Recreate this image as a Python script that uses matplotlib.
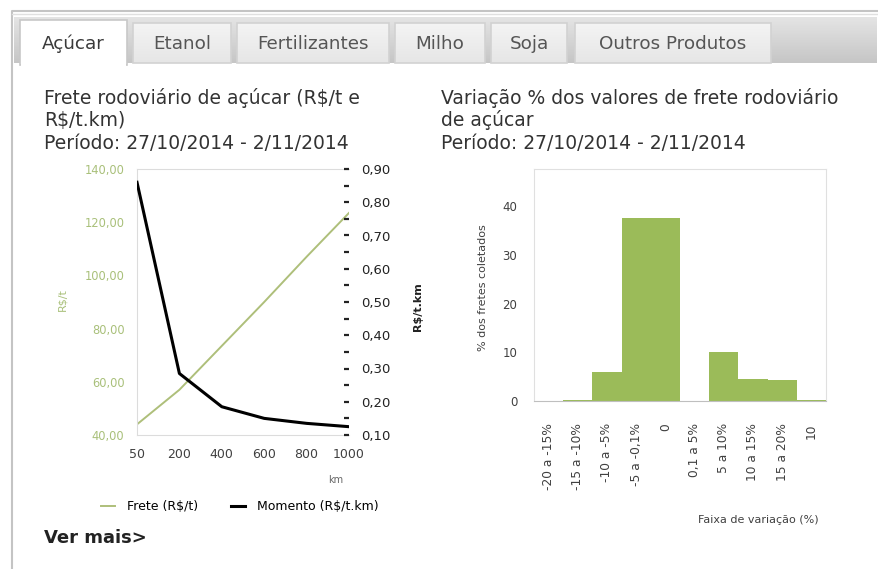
import numpy as np
import matplotlib
matplotlib.use("Agg")
import matplotlib.pyplot as plt
from matplotlib.patches import Rectangle
from matplotlib.colors import LinearSegmentedColormap

# === 数据 ===
km_labels = ['50', '200', '400', '600', '800', '1000']
frete = [44.0, 57.0, 73.5, 90.0, 107.0, 123.5]          # R$/t
momento = [0.86, 0.285, 0.185, 0.15, 0.135, 0.125]      # R$/t.km

faixas = ['-20 a -15%', '-15 a -10%', '-10 a -5%', '-5 a -0,1%', '0',
          '0,1 a 5%', '5 a 10%', '10 a 15%', '15 a 20%', '10']
pct_fretes = [0.0, 0.3, 6.0, 37.5, 37.5, 0.0, 10.1, 4.5, 4.3, 0.3]

tabs = ['Açúcar', 'Etanol', 'Fertilizantes', 'Milho', 'Soja', 'Outros Produtos']
tab_x = [(20, 127), (133, 231), (237, 389), (395, 485), (491, 567), (575, 771)]

# === 画布（像素坐标） ===
W, H = 879, 569
fig = plt.figure(figsize=(W / 100, H / 100), dpi=100)
fig.patch.set_facecolor('white')


def rect(x0, y0, x1, y1):
    return [x0 / W, 1 - y1 / H, (x1 - x0) / W, (y1 - y0) / H]


green = '#9bbb59'
line_green = '#aebf7a'
grey_txt = '#404040'

# === 页面背景：标签页 ===
bg = fig.add_axes([0, 0, 1, 1], zorder=0)
bg.axis('off')

grad = np.linspace(0, 1, 50).reshape(-1, 1)
bg.imshow(grad, extent=[14, 877, 63, 17],
          cmap=LinearSegmentedColormap.from_list('strip', ['#e4e4e4', '#c6c6c6']),
          aspect='auto', zorder=1)
bg.plot([12, 12, 879], [569, 11, 11], color='#c4c4c4', lw=1.5, zorder=2)
bg.plot([12, 879], [14, 14], color='#e0e0e0', lw=1, zorder=2)

for i, (name, (x0, x1)) in enumerate(zip(tabs, tab_x)):
    if i == 0:
        bg.add_patch(Rectangle((x0, 20), x1 - x0, 45, facecolor='white',
                               edgecolor='#c8c8c8', lw=1.2, zorder=4))
        bg.add_patch(Rectangle((x0 + 1, 62), x1 - x0 - 2, 4, facecolor='white',
                               edgecolor='none', zorder=5))
    else:
        bg.imshow(grad, extent=[x0, x1, 63, 23],
                  cmap=LinearSegmentedColormap.from_list('tab', ['#f4f4f4', '#e6e6e6']),
                  aspect='auto', zorder=3)
        bg.add_patch(Rectangle((x0, 23), x1 - x0, 40, facecolor='none',
                               edgecolor='#d2d2d2', lw=1.2, zorder=4))
    bg.text((x0 + x1) / 2, 44, name, ha='center', va='center', fontsize=13.2,
            color='#3a3a3a' if i == 0 else '#555555', zorder=6)
bg.set_xlim(0, W)
bg.set_ylim(H, 0)

# === 标题 ===
t_kw = dict(fontsize=13.5, color='#333333', va='center', ha='left')
bg.text(44, 98, 'Frete rodoviário de açúcar (R\\$/t e', **t_kw)
bg.text(44, 120, 'R\\$/t.km)', **t_kw)
bg.text(44, 143, 'Período: 27/10/2014 - 2/11/2014', **t_kw)
bg.text(441, 98, 'Variação % dos valores de frete rodoviário', **t_kw)
bg.text(441, 120, 'de açúcar', **t_kw)
bg.text(441, 143, 'Período: 27/10/2014 - 2/11/2014', **t_kw)
bg.text(44, 538, 'Ver mais>', fontsize=13, fontweight='bold', color='#222222',
        va='center', ha='left')

# === 左图：运费与 Momento ===
x = np.arange(len(km_labels))
ax = fig.add_axes(rect(137, 169, 349, 435), zorder=2)
l1, = ax.plot(x, frete, color=line_green, lw=1.4)
ax.set_xlim(0, len(km_labels) - 1)
ax.set_ylim(40, 140)
ax.set_yticks(np.arange(40, 141, 20))
ax.set_yticklabels(['%d,00' % v for v in np.arange(40, 141, 20)])
ax.set_xticks(x)
ax.set_xticklabels(km_labels)
ax.tick_params(axis='y', length=0, pad=9, labelsize=8.3, labelcolor='#a9c07a')
ax.tick_params(axis='x', length=0, pad=9, labelsize=9, labelcolor=grey_txt)
for s in ['left', 'top', 'bottom']:
    ax.spines[s].set_color('#dcdcdc')
ax.spines['right'].set_visible(False)

ax2 = ax.twinx()
l2, = ax2.plot(x, momento, color='black', lw=2.2)
ax2.set_ylim(0.10, 0.90)
ax2.set_yticks(np.arange(0.1, 0.91, 0.1))
ax2.set_yticklabels(['0,%02d' % round(v * 100) for v in np.arange(0.1, 0.91, 0.1)])
ax2.set_yticks(np.arange(0.15, 0.9, 0.1), minor=True)
ax2.tick_params(axis='y', which='both', direction='in', length=3.5, width=1.6,
                color='#222222', pad=9, labelsize=9.5, labelcolor='#222222')
for s in ax2.spines.values():
    s.set_visible(False)

bg.text(62, 300, 'R\\$/t', rotation=90, ha='center', va='center', fontsize=8,
        color='#a9c07a')
bg.text(418, 307, 'R\\$/t.km', rotation=90, ha='center', va='center', fontsize=8,
        color='#222222', fontweight='bold')
bg.text(336, 480, 'km', ha='center', va='center', fontsize=7, color='#666666')

fig.legend([l1, l2], ['Frete (R\\$/t)', 'Momento (R\\$/t.km)'], loc='center',
           bbox_to_anchor=(240 / W, 1 - 507 / H), ncol=2, frameon=False,
           fontsize=9, handlelength=1.1, handletextpad=1.0, columnspacing=2.6)

# === 右图：变动分布 ===
ax3 = fig.add_axes(rect(534, 169, 826, 401), zorder=2)
xb = np.arange(len(faixas))
ax3.bar(xb, pct_fretes, width=1.0, color=green, linewidth=0)
ax3.set_xlim(-0.5, len(faixas) - 0.5)
ax3.set_ylim(0, 47.6)
ax3.set_yticks([0, 10, 20, 30, 40])
ax3.set_xticks(xb)
ax3.set_xticklabels(faixas, rotation=90, va='top', ha='center')
ax3.tick_params(axis='y', length=0, pad=12, labelsize=8.5, labelcolor=grey_txt)
ax3.tick_params(axis='x', length=0, pad=16, labelsize=8.8, labelcolor=grey_txt)
for s in ['left', 'top', 'right']:
    ax3.spines[s].set_color('#e0e0e0')
ax3.spines['bottom'].set_color('#bfbfbf')
bg.text(483, 288, '% dos fretes coletados', rotation=90, ha='center', va='center',
        fontsize=8, color=grey_txt)
bg.text(758, 520, 'Faixa de variação (%)', ha='center', va='center', fontsize=8,
        color=grey_txt)

fig.savefig('out.png', dpi=100)
